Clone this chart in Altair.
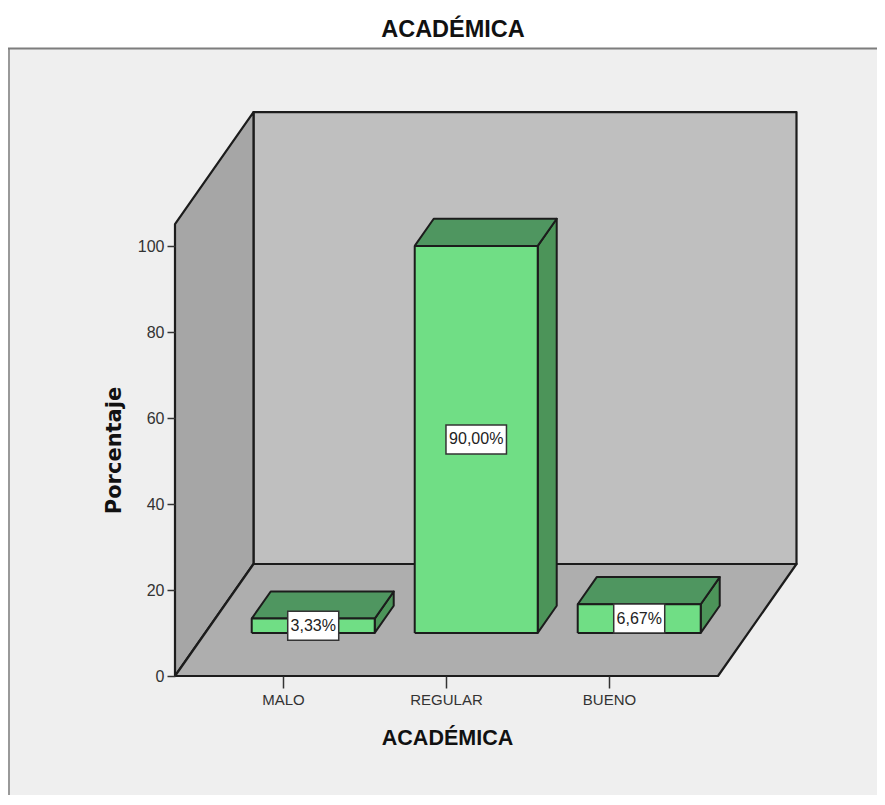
import altair as alt
import pandas as pd

categories = ["MALO", "REGULAR", "BUENO"]
values = [3.33, 90.00, 6.67]
labels = ["3,33%", "90,00%", "6,67%"]
y_ticks = [0, 20, 40, 60, 80, 100]

# geometry of the oblique projection, in data units
UNIT = 163.0          # px per category
PCT = 4.3             # px per percent
X_MIN, X_MAX = -108 / UNIT, 514 / UNIT
Y_TOP_DOMAIN = 565 / PCT
WALL_TOP = 105.1
FLOOR_RIGHT = 543 / UNIT - 108 / UNIT
DEPTH_X = 78.5 / UNIT
DEPTH_Y = 112 / PCT
BAR_HALF = 61.5 / UNIT
D0, D1 = 0.385, 0.627

x_scale = alt.Scale(domain=[X_MIN, X_MAX], nice=False, zero=False)
y_scale = alt.Scale(domain=[0, Y_TOP_DOMAIN], nice=False, zero=False)

DARK = "#1c1c1c"
label_expr = "[" + ",".join(f"'{c}'" for c in categories) + "][datum.value]"
x_axis = alt.Axis(
    values=[0, 1, 2], labelExpr=label_expr, title="ACADÉMICA", domain=False, grid=False,
    tickSize=12, tickWidth=1.5, tickColor="#333333", labelFont="Liberation Sans", labelFontSize=15,
    labelColor="#333333", labelPadding=4, titleFont="Liberation Sans", titleFontSize=21.5,
    titleFontWeight="bold", titleColor="#111111", titleX=272, titleY=51, zindex=1)
y_axis = alt.Axis(
    values=y_ticks, title="Porcentaje", domain=False, grid=False,
    tickSize=8, tickWidth=1.5, tickColor="#333333", labelFont="Liberation Sans", labelFontSize=16,
    labelColor="#333333", labelPadding=3, titleFont="DejaVu Sans", titleFontSize=21,
    titleFontWeight="bold", titleColor="#111111", titleX=-51, titleY=339, zindex=1)


def P(x, y, d=0.0):
    return (x + DEPTH_X * d, y + DEPTH_Y * d)


def face(points, fill, stroke=DARK, sw=2.2):
    pts = list(points) + [points[0]]
    df = pd.DataFrame([{"x": p[0], "y": p[1], "o": i} for i, p in enumerate(pts)])
    return alt.Chart(df).mark_line(fill=fill, stroke=stroke, strokeWidth=sw, strokeJoin="round").encode(
        x=alt.X("x:Q", scale=x_scale, axis=x_axis),
        y=alt.Y("y:Q", scale=y_scale, axis=y_axis),
        order="o:Q",
    )


one = pd.DataFrame({"a": [0]})
panel = alt.Chart(one).mark_rect(color="#efefef").encode(
    x=alt.value(-167), x2=alt.value(702), y=alt.value(-63), y2=alt.value(684)
)
frame_top = alt.Chart(one).mark_rule(color="#7d7d7d", strokeWidth=2).encode(
    x=alt.value(-167), x2=alt.value(702), y=alt.value(-62.5)
)
frame_left = alt.Chart(one).mark_rule(color="#7d7d7d", strokeWidth=1.5).encode(
    x=alt.value(-166), y=alt.value(-63), y2=alt.value(684)
)
title = alt.Chart(pd.DataFrame({"t": ["ACADÉMICA"]})).mark_text(
    font="Liberation Sans", fontSize=23.5, fontWeight="bold", color="#111111"
).encode(x=alt.value(278), y=alt.value(-81), text="t:N")

back = face([P(X_MIN, 0, 1), P(FLOOR_RIGHT, 0, 1), P(FLOOR_RIGHT, WALL_TOP, 1), P(X_MIN, WALL_TOP, 1)], "#bfbfbf")
left = face([P(X_MIN, 0), P(X_MIN, 0, 1), P(X_MIN, WALL_TOP, 1), P(X_MIN, WALL_TOP)], "#a6a6a6")
floor = face([P(X_MIN, 0), P(FLOOR_RIGHT, 0), P(FLOOR_RIGHT, 0, 1), P(X_MIN, 0, 1)], "#aeaeae")

bars = []
for i, v in enumerate(values):
    a, b = i - BAR_HALF, i + BAR_HALF
    bars.append(face([P(b, 0, D0), P(b, 0, D1), P(b, v, D1), P(b, v, D0)], "#4c9459", sw=2))
    bars.append(face([P(a, v, D0), P(b, v, D0), P(b, v, D1), P(a, v, D1)], "#4f9660", sw=2))
    bars.append(face([P(a, 0, D0), P(b, 0, D0), P(b, v, D0), P(a, v, D0)], "#70de85", sw=2))

rows = []
for i, (v, lab) in enumerate(zip(values, labels)):
    cx, cy = P(i, v / 2, D0)
    half = (9.5 * len(lab) + 3.5) / 2 / UNIT
    rows.append({"cx": cx, "cy": cy, "x0": cx - half, "x1": cx + half,
                 "y0": cy - 14.5 / PCT, "y1": cy + 14.5 / PCT, "t": lab})
lab_df = pd.DataFrame(rows)
boxes = alt.Chart(lab_df).mark_rect(fill="white", stroke="#333333", strokeWidth=1.5).encode(
    x=alt.X("x0:Q", scale=x_scale, axis=x_axis), x2="x1:Q",
    y=alt.Y("y0:Q", scale=y_scale, axis=y_axis), y2="y1:Q",
)
texts = alt.Chart(lab_df).mark_text(font="Liberation Sans", fontSize=16, color="#222222").encode(
    x=alt.X("cx:Q", scale=x_scale, axis=x_axis),
    y=alt.Y("cy:Q", scale=y_scale, axis=y_axis),
    text="t:N",
)

chart = alt.layer(panel, frame_top, frame_left, title, back, left, floor, *bars, boxes, texts).properties(
    width=622, height=565,
    padding={"left": 167, "top": 103, "right": 80, "bottom": 119},
    autosize=alt.AutoSizeParams(type="none"),
    background="white",
).configure_view(stroke=None)

chart.save("out.html", embed_options={"renderer": "svg", "actions": False})
